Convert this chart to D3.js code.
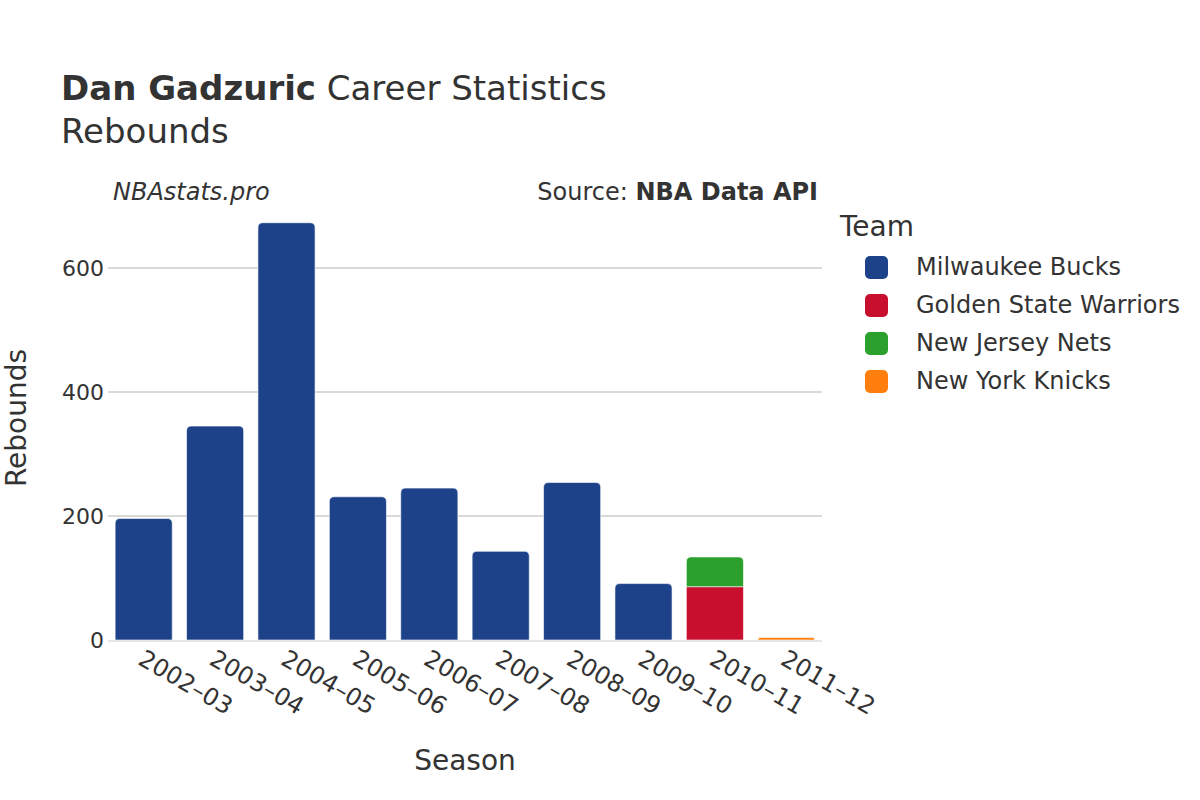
<!DOCTYPE html>
<html>
<head>
<meta charset="utf-8">
<script src="https://cdn.jsdelivr.net/npm/d3@7"></script>
<style>
  body { margin: 0; background: #fff; }
  text { font-family: "DejaVu Sans", sans-serif; fill: #333; }
</style>
</head>
<body>
<svg id="chart" width="1200" height="800"></svg>
<script>
const seasons = ['2002–03', '2003–04', '2004–05', '2005–06', '2006–07', '2007–08', '2008–09', '2009–10', '2010–11', '2011–12']
const teams = ['Milwaukee Bucks', 'Golden State Warriors', 'New Jersey Nets', 'New York Knicks']
const colors = ['#1d4289', '#c8102e', '#2ca02c', '#ff7f0e']
const bucks    = [196, 345, 673, 231, 245, 143, 254, 91, 0, 0]
const warriors = [0, 0, 0, 0, 0, 0, 0, 0, 86, 0]
const nets     = [0, 0, 0, 0, 0, 0, 0, 0, 48, 0]
const knicks   = [0, 0, 0, 0, 0, 0, 0, 0, 0, 4]
const yTicks = [0, 200, 400, 600]

const svg = d3.select('#chart')
const mLeft = 108, mRight = 822, mTop = 205, mBottom = 640

const rows = seasons.map((s, i) => ({
    season: s,
    'Milwaukee Bucks': bucks[i],
    'Golden State Warriors': warriors[i],
    'New Jersey Nets': nets[i],
    'New York Knicks': knicks[i]
}))
const stack = d3.stack().keys(teams)(rows)

const x = d3.scaleBand().domain(seasons).range([mLeft, mRight]).paddingInner(0.2).paddingOuter(0.1)
// 200 rebounds ~ 124px
const y = d3.scaleLinear().domain([0, (mBottom - mTop) / 0.62]).range([mBottom, mTop])

// grid
svg.append('g')
    .selectAll('line')
    .data(yTicks.filter(d => d > 0))
    .enter().append('line')
    .attr('x1', mLeft).attr('x2', mRight)
    .attr('y1', d => y(d)).attr('y2', d => y(d))
    .attr('stroke', '#b4b4b4').attr('stroke-width', 1.2)

// bars
const roundTop = (x0, y0, w, h, r) => {
    r = Math.min(r, h, w / 2)
    return `M${x0},${y0 + h} V${y0 + r} Q${x0},${y0} ${x0 + r},${y0} H${x0 + w - r} Q${x0 + w},${y0} ${x0 + w},${y0 + r} V${y0 + h} Z`
}

stack.forEach((layer, li) => {
    svg.append('g')
        .selectAll('path')
        .data(layer.filter(d => d[1] - d[0] > 0))
        .enter().append('path')
        .attr('fill', colors[li])
        .attr('stroke', '#fff').attr('stroke-width', 0.6)
        .attr('d', d => {
            const topOfStack = d3.sum(teams, t => d.data[t])
            const isTop = d[1] >= topOfStack
            const y0 = y(d[1]), h = y(d[0]) - y(d[1])
            return isTop ? roundTop(x(d.data.season), y0, x.bandwidth(), h, 5)
                         : `M${x(d.data.season)},${y0}h${x.bandwidth()}v${h}h${-x.bandwidth()}Z`
        })
})

// zero line
svg.append('line')
    .attr('x1', mLeft).attr('x2', mRight)
    .attr('y1', y(0) + 1).attr('y2', y(0) + 1)
    .attr('stroke', '#e6e6e6').attr('stroke-width', 2)

// y axis labels
svg.append('g')
    .selectAll('text')
    .data(yTicks)
    .enter().append('text')
    .attr('x', mLeft - 4).attr('y', d => y(d))
    .attr('dy', '0.35em')
    .attr('text-anchor', 'end')
    .attr('font-size', 22)
    .text(d => d)

// x axis labels
svg.append('g')
    .selectAll('text')
    .data(seasons)
    .enter().append('text')
    .attr('transform', d => `translate(${x(d) + x.bandwidth() / 2 + 2},${mBottom + 8}) rotate(30)`)
    .attr('font-size', 24)
    .attr('dy', '0.75em')
    .text(d => d)

// titles
const title = svg.append('text').attr('x', 61).attr('y', 100).attr('font-size', 34)
title.append('tspan').attr('font-weight', 'bold').text('Dan Gadzuric')
title.append('tspan').text(' Career Statistics')
svg.append('text').attr('x', 61).attr('y', 143).attr('font-size', 34).text('Rebounds')

svg.append('text').attr('x', 113).attr('y', 200).attr('font-size', 24)
    .attr('font-style', 'italic').text('NBAstats.pro')
const src = svg.append('text').attr('x', 818).attr('y', 200).attr('font-size', 24).attr('text-anchor', 'end')
src.append('tspan').text('Source: ')
src.append('tspan').attr('font-weight', 'bold').text('NBA Data API')

svg.append('text').attr('x', 465).attr('y', 770).attr('font-size', 28)
    .attr('text-anchor', 'middle').text('Season')
svg.append('text').attr('transform', 'translate(26,418) rotate(-90)')
    .attr('font-size', 28).attr('text-anchor', 'middle').text('Rebounds')

// legend
svg.append('text').attr('x', 840).attr('y', 236).attr('font-size', 28).text('Team')
const leg = svg.append('g')
    .selectAll('g')
    .data(teams)
    .enter().append('g')
    .attr('transform', (d, i) => `translate(865,${267 + i * 38})`)
leg.append('rect')
    .attr('x', 0).attr('y', -11).attr('width', 23).attr('height', 23)
    .attr('rx', 5)
    .attr('fill', (d, i) => colors[i])
leg.append('text')
    .attr('x', 51).attr('y', 0).attr('dy', '0.35em')
    .attr('font-size', 24)
    .text(d => d)
</script>
</body>
</html>
